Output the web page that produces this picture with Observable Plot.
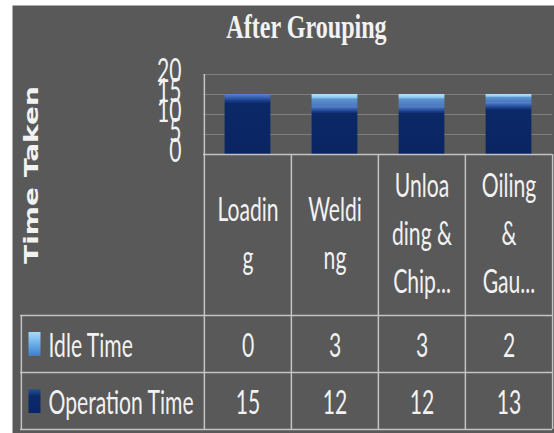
<!DOCTYPE html>
<html><head><meta charset="utf-8">
<script src="https://cdn.jsdelivr.net/npm/d3@7"></script>
<script src="https://cdn.jsdelivr.net/npm/@observablehq/plot@0.6"></script>
<style>body{margin:0;background:#fff;} #chart svg{display:block}</style>
</head><body><div id="chart"></div>
<script>
// ---- data ----
const title = "After Grouping";
const yLabel = "Time Taken";
const categories = ["Loading", "Welding", "Unloading & Chip...", "Oiling & Gau..."];
const headerLabels = ["Loadin\ng", "Weldi\nng", "Unloa\nding &\nChip...", "Oiling\n&\nGau..."];
const seriesNames = ["Operation Time", "Idle Time"];
const idleTime = [0, 3, 3, 2];
const operationTime = [15, 12, 12, 13];
const yTicks = [0, 5, 10, 15, 20];

// ---- layout ----
const W = 554, H = 433, mL = 203, mR = 2, mT = 74, mB = 279;
const frameH = H - mT - mB;          // plot frame height
const headerH = 161, rowH = 57;      // data-table rows
const tableH = headerH + 2 * rowH;
const bw = (W - mL - mR) / categories.length;
const labelColLeft = 20;
const panelLeft = 12, panelTop = 5;
const lineColor = "#c4c4c4";
const textColor = "#f2f2f2";
const tableFont = "Lato";
const titleFont = "Liberation Serif";
const labelFont = "DejaVu Sans";

const rows = categories.flatMap((c, i) => [
  {cat: c, series: "Operation Time", value: operationTime[i]},
  {cat: c, series: "Idle Time", value: idleTime[i]}
]);

const swatchSymbol = {draw(ctx) { ctx.rect(-6, -12, 12, 24); }};
const tableValues = [idleTime, operationTime];
const legendNames = ["Idle Time", "Operation Time"];
const legendFills = ["url(#swIdle)", "url(#swOp)"];
const tt = {fontFamily: tableFont, fontSize: 32, fill: textColor, lineAnchor: "middle"};

const marks = [
  // grey panel
  Plot.frame({fill: "#595959", stroke: "none",
    insetLeft: -(mL - panelLeft), insetTop: -(mT - panelTop), insetRight: -mR, insetBottom: -mB}),
  // gridlines
  Plot.ruleY(yTicks.filter(t => t > 0), {y: d => d, stroke: "#7e7e7e", strokeWidth: 1}),
  // bars
  Plot.barY(rows, {x: "cat", y: "value", fill: "series", insetLeft: 20.6, insetRight: 20.6}),
  // table horizontal lines
  Plot.ruleY([0], {y: d => d, stroke: lineColor, strokeWidth: 1.5}),
  ...[headerH, headerH + rowH, tableH].map(off =>
    Plot.ruleY([0], {y: d => d, dy: off, insetLeft: -(mL - labelColLeft), stroke: lineColor, strokeWidth: 1.5})),
  // table vertical lines
  Plot.ruleX([categories[0]], {x: d => d, dx: -bw / 2, insetBottom: -tableH, stroke: lineColor, strokeWidth: 1.5}),
  Plot.ruleX(categories.slice(1), {x: d => d, dx: -bw / 2, insetTop: frameH, insetBottom: -tableH, stroke: lineColor, strokeWidth: 1.5}),
  Plot.ruleX([categories[categories.length - 1]], {x: d => d, dx: bw / 2, insetTop: frameH, insetBottom: -tableH, stroke: lineColor, strokeWidth: 1.5}),
  Plot.ruleX([categories[0]], {x: d => d, dx: -bw / 2 - (mL - labelColLeft), insetTop: frameH + headerH, insetBottom: -tableH, stroke: lineColor, strokeWidth: 1.5}),
  // header (category) labels
  Plot.text(categories, {x: d => d, text: (d, i) => headerLabels[i], frameAnchor: "bottom",
    dy: headerH / 2 - 5.5, lineHeight: 1.5, ...tt}),
  // table values
  ...tableValues.map((vals, r) =>
    Plot.text(categories, {x: d => d, text: (d, i) => String(vals[i]), frameAnchor: "bottom",
      dy: headerH + rowH * r + rowH / 2 + 2.5, ...tt})),
  // legend keys in table
  ...legendNames.map((name, r) =>
    Plot.text([name], {text: d => d, frameAnchor: "bottom-left", textAnchor: "start",
      dx: 48 - mL, dy: headerH + rowH * r + rowH / 2 + 2.5, ...tt})),
  ...legendNames.map((name, r) =>
    Plot.dot([name], {frameAnchor: "bottom-left", dx: 34 - mL, dy: headerH + rowH * r + rowH / 2,
      symbol: swatchSymbol, fill: legendFills[r]})),
  // y tick labels
  Plot.text(yTicks, {y: d => d, text: d => String(d), frameAnchor: "left", textAnchor: "end",
    dx: -22, dy: -3, ...tt}),
  // y axis title
  Plot.text([yLabel], {text: d => d, frameAnchor: "left", textAnchor: "middle", lineAnchor: "middle",
    rotate: -90, dx: -171.6, dy: 60.5,
    fontFamily: labelFont, fontWeight: "bold", fontSize: 20, fill: textColor}),
  // chart title
  Plot.text([title], {text: d => d, frameAnchor: "top", textAnchor: "middle", lineAnchor: "middle",
    dx: 306 - (mL + (W - mR - mL) / 2), dy: -46.6,
    fontFamily: titleFont, fontWeight: "bold", fontSize: 33, fill: textColor})
];

const svg = Plot.plot({
  width: W, height: H,
  marginLeft: mL, marginRight: mR, marginTop: mT, marginBottom: mB,
  x: {domain: categories, padding: 0, axis: null},
  y: {domain: [0, 20], axis: null},
  color: {type: "ordinal", domain: seriesNames, range: ["url(#gOp)", "url(#gIdle)"]},
  style: {background: "#ffffff", color: textColor, overflow: "visible"},
  marks
});

// gradients
const defs = d3.select(svg).insert("defs", ":first-child");
function grad(id, stops) {
  const g = defs.append("linearGradient").attr("id", id)
    .attr("x1", 0).attr("y1", 0).attr("x2", 0).attr("y2", 1);
  stops.forEach(([o, c]) => g.append("stop").attr("offset", o).attr("stop-color", c));
}
grad("gOp", [[0, "#5a86d0"], [0.05, "#3a65b5"], [0.11, "#1c3f8a"], [0.16, "#0b2867"], [1, "#0a2562"]]);
grad("gIdle", [[0, "#b6e2fb"], [0.28, "#8ccbf4"], [0.42, "#5d93d2"], [1, "#4a78bb"]]);
grad("swIdle", [[0, "#a8dbf8"], [0.5, "#6aaee8"], [1, "#3d7fcc"]]);
grad("swOp", [[0, "#2a4f9a"], [0.3, "#0c2a6c"], [1, "#0a2562"]]);

// condensed text (reference is horizontally compressed)
function squeeze(family, sx) {
  svg.querySelectorAll("g").forEach(g => {
    if (g.getAttribute("font-family") !== family) return;
    g.querySelectorAll("text").forEach(t => {
      t.setAttribute("transform", (t.getAttribute("transform") || "") + ` scale(${sx},1)`);
    });
  });
}
squeeze(tableFont, 0.66);
squeeze(titleFont, 0.73);
squeeze(labelFont, 1.4);

document.getElementById("chart").appendChild(svg);
</script>
</body></html>
